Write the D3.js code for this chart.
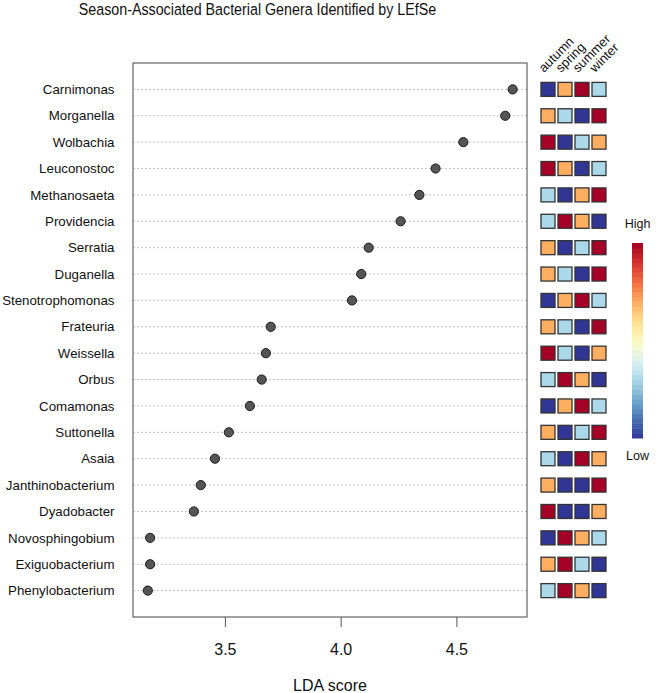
<!DOCTYPE html>
<html>
<head>
<meta charset="utf-8">
<script src="https://cdn.jsdelivr.net/npm/d3@7"></script>
<style>
  body { margin: 0; background: #fff; }
  svg { display: block; font-family: "Liberation Sans", Arial, Helvetica, sans-serif; }
</style>
</head>
<body>
<script>
// Genera, top to bottom, with LDA scores
const genera = ["Carnimonas", "Morganella", "Wolbachia", "Leuconostoc", "Methanosaeta",
  "Providencia", "Serratia", "Duganella", "Stenotrophomonas", "Frateuria", "Weissella",
  "Orbus", "Comamonas", "Suttonella", "Asaia", "Janthinobacterium", "Dyadobacter",
  "Novosphingobium", "Exiguobacterium", "Phenylobacterium"];
const ldaScores = [4.743, 4.711, 4.53, 4.41, 4.34, 4.259, 4.121, 4.089, 4.049, 3.698,
  3.677, 3.659, 3.608, 3.517, 3.457, 3.396, 3.366, 3.177, 3.177, 3.167];

// Seasonal abundance level per genus (1 = low ... 4 = high), order of seasons
const seasons = ["autumn", "spring", "summer", "winter"];
const seasonLevels = [
  [1, 3, 4, 2], [3, 2, 1, 4], [4, 1, 2, 3], [4, 3, 1, 2], [2, 1, 3, 4],
  [2, 4, 3, 1], [3, 1, 2, 4], [3, 2, 1, 4], [1, 3, 4, 2], [3, 2, 1, 4],
  [4, 2, 1, 3], [2, 4, 3, 1], [1, 3, 4, 2], [3, 1, 2, 4], [2, 1, 4, 3],
  [3, 1, 1, 4], [4, 1, 1, 3], [1, 4, 3, 2], [3, 4, 2, 1], [2, 4, 3, 1]
];
const xTicks = [3.5, 4.0, 4.5];

const W = 661, H = 693;
const plot = { left: 133, right: 527, top: 63, bottom: 617 };

const svg = d3.select("body").append("svg")
  .attr("width", W)
  .attr("height", H);

const x = d3.scaleLinear()
  .domain([3.103, 4.805])
  .range([plot.left, plot.right]);

// row positions: domain 0..n+1, first row at top
const y = d3.scaleLinear()
  .domain([0, genera.length + 1])
  .range([plot.top, plot.bottom]);

// Title (slightly condensed, as in the original)
svg.append("text")
  .attr("transform", "translate(257.5,15) scale(0.865,1)")
  .attr("text-anchor", "middle")
  .attr("font-size", "16.5px")
  .attr("fill", "#111")
  .text("Season-Associated Bacterial Genera Identified by LEfSe");

// dotted guide lines
svg.append("g")
  .selectAll("line")
  .data(genera)
  .join("line")
  .attr("x1", plot.left)
  .attr("x2", plot.right)
  .attr("y1", (d, i) => y(i + 1))
  .attr("y2", (d, i) => y(i + 1))
  .attr("stroke", "#c4c4c4")
  .attr("stroke-width", 1)
  .attr("stroke-dasharray", "2,2");

// genus labels
svg.append("g")
  .selectAll("text")
  .data(genera)
  .join("text")
  .attr("x", 114.5)
  .attr("y", (d, i) => y(i + 1))
  .attr("dy", "0.35em")
  .attr("text-anchor", "end")
  .attr("font-size", "13.3px")
  .attr("fill", "#111")
  .text(d => d);

// points
svg.append("g")
  .selectAll("circle")
  .data(ldaScores)
  .join("circle")
  .attr("cx", d => x(d))
  .attr("cy", (d, i) => y(i + 1))
  .attr("r", 4.6)
  .attr("fill", "#555")
  .attr("stroke", "#1a1a1a")
  .attr("stroke-width", 1);

// plot box
svg.append("rect")
  .attr("x", plot.left)
  .attr("y", plot.top)
  .attr("width", plot.right - plot.left)
  .attr("height", plot.bottom - plot.top)
  .attr("fill", "none")
  .attr("stroke", "#444")
  .attr("stroke-width", 1);

// x axis
const xAxis = svg.append("g")
  .attr("transform", `translate(0,${plot.bottom})`)
  .call(d3.axisBottom(x).tickValues(xTicks).tickFormat(d3.format(".1f")).tickSize(10).tickPadding(17));
xAxis.select(".domain").remove();
xAxis.selectAll("line").attr("stroke", "#555");
xAxis.selectAll("text")
  .attr("font-size", "16px")
  .attr("font-family", "Liberation Sans, Arial, sans-serif")
  .attr("fill", "#111");

svg.append("text")
  .attr("x", (plot.left + plot.right) / 2)
  .attr("y", 691)
  .attr("text-anchor", "middle")
  .attr("font-size", "16px")
  .attr("fill", "#111")
  .text("LDA score");

// season heatmap
const rdylbu = d3.schemeRdYlBu[11];
const levelColor = d3.scaleOrdinal()
  .domain([1, 2, 3, 4])
  .range([rdylbu[10], rdylbu[7], rdylbu[3], rdylbu[0]]);

const sx = d3.scalePoint()
  .domain(seasons)
  .range([548, 599]);
const cell = 14;

const heat = svg.append("g");
heat.selectAll("g")
  .data(seasonLevels)
  .join("g")
  .attr("transform", (d, i) => `translate(0,${y(i + 1)})`)
  .selectAll("rect")
  .data(d => d.map((v, j) => ({ season: seasons[j], v })))
  .join("rect")
  .attr("x", d => sx(d.season) - cell / 2)
  .attr("y", -cell / 2)
  .attr("width", cell)
  .attr("height", cell)
  .attr("fill", d => levelColor(d.v))
  .attr("stroke", "#333")
  .attr("stroke-width", 1.3);

// season labels, rotated
svg.append("g")
  .selectAll("text")
  .data(seasons)
  .join("text")
  .attr("transform", d => `translate(${sx(d) - 4},${73}) rotate(-45)`)
  .attr("font-size", "13px")
  .attr("fill", "#111")
  .text(d => d);

// colour bar legend
const bar = { x: 632, w: 11, top: 243, bottom: 438 };
const nSteps = 40;
const barScale = d3.scaleLinear().domain([0, nSteps]).range([bar.bottom, bar.top]);
svg.append("g")
  .selectAll("rect")
  .data(d3.range(nSteps))
  .join("rect")
  .attr("x", bar.x)
  .attr("y", d => barScale(d + 1))
  .attr("width", bar.w)
  .attr("height", d => barScale(d) - barScale(d + 1) + 0.5)
  .attr("fill", d => d3.interpolateRdYlBu(1 - (d + 0.5) / nSteps));

svg.append("text")
  .attr("x", bar.x + bar.w / 2)
  .attr("y", 228)
  .attr("text-anchor", "middle")
  .attr("font-size", "12.5px")
  .attr("fill", "#111")
  .text("High");
svg.append("text")
  .attr("x", bar.x + bar.w / 2)
  .attr("y", 460)
  .attr("text-anchor", "middle")
  .attr("font-size", "12.5px")
  .attr("fill", "#111")
  .text("Low");
</script>
</body>
</html>
